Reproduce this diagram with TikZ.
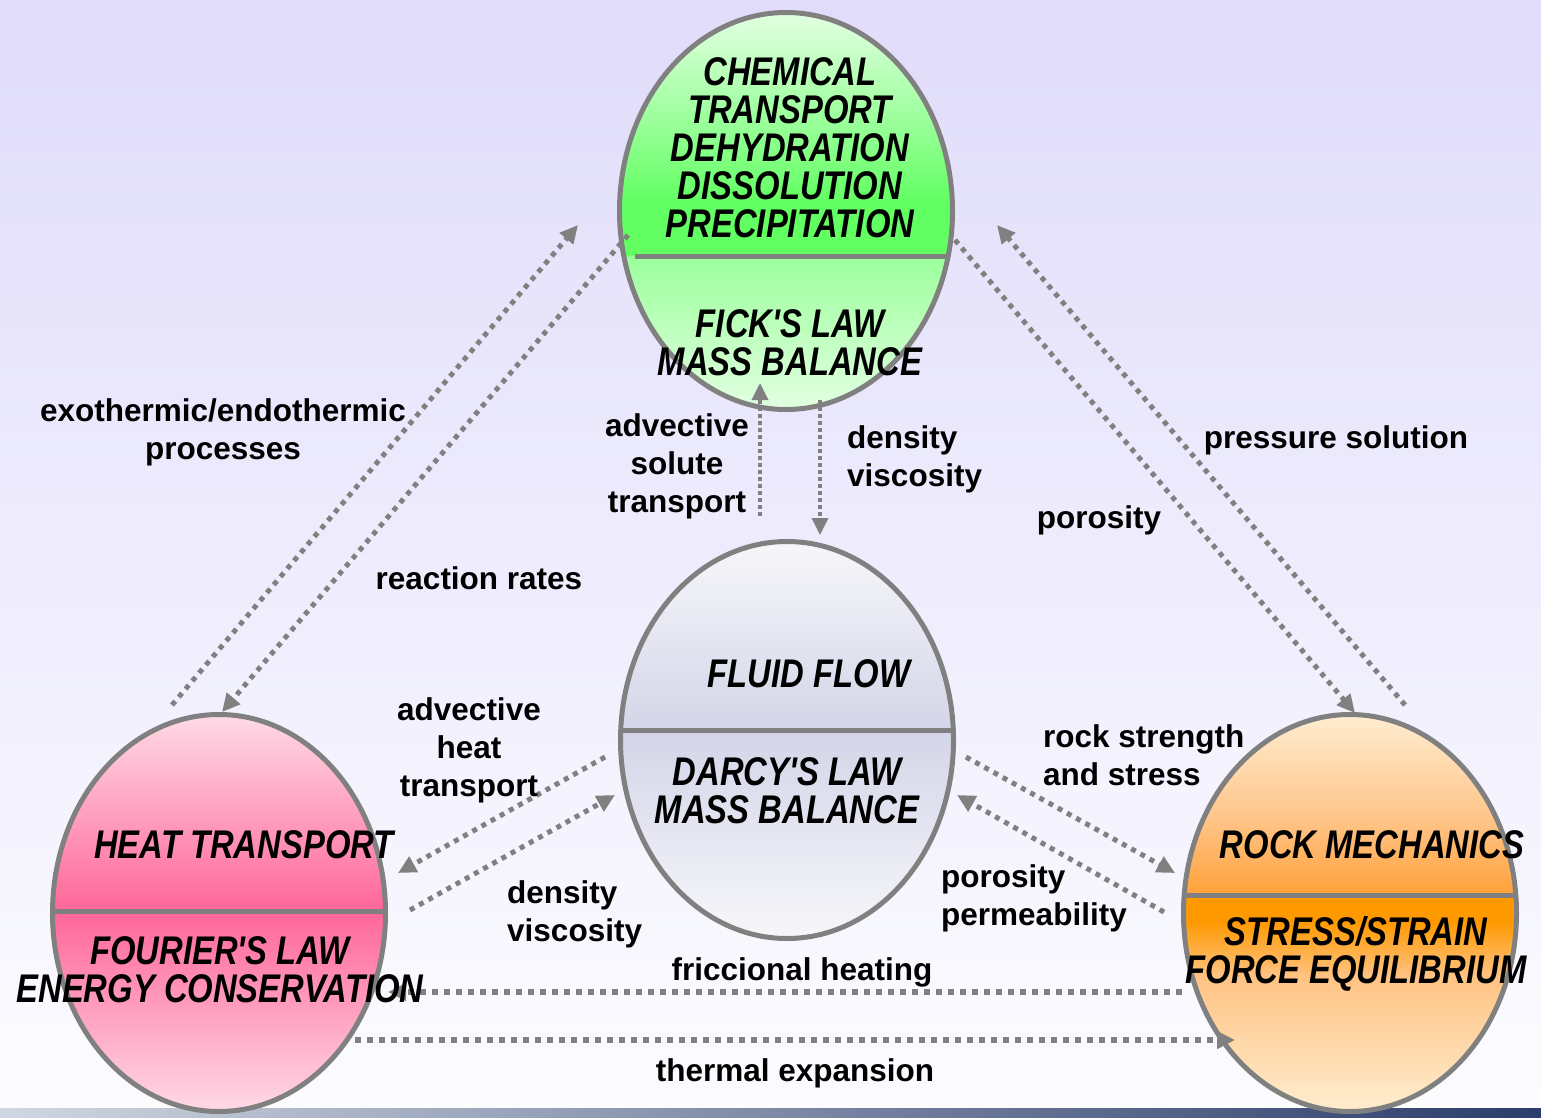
\documentclass[tikz,border=0pt]{standalone}
\usepackage{fontspec}
\setmainfont{Liberation Sans}
\newfontfamily\decofont[FakeStretch=0.82]{Liberation Sans}
\usetikzlibrary{shapes.geometric,arrows.meta,calc}

% palette
\definecolor{edgegray}{HTML}{808080}
\definecolor{bgtop}{HTML}{E0DCFA}
\definecolor{bgbottom}{HTML}{FCFCFF}
\definecolor{stripleft}{HTML}{D0D7E2}
\definecolor{stripright}{HTML}{2C3D6B}
\definecolor{chemlight}{HTML}{E2FFE2}
\definecolor{chemlow}{HTML}{9CFF9C}
\definecolor{chembright}{HTML}{62FF62}
\definecolor{chemmid}{HTML}{9EFF9E}
\definecolor{heatlight}{HTML}{FFDAE6}
\definecolor{heatmid}{HTML}{FF6699}
\definecolor{rocklight}{HTML}{FFEDD0}
\definecolor{rockup}{HTML}{FFC58A}
\definecolor{rockmid}{HTML}{FF9900}
\definecolor{rocklow}{HTML}{FFA13A}
\definecolor{rocklow2}{HTML}{FFC383}
\definecolor{fluidlight}{HTML}{F7F7FA}
\definecolor{fluidmid}{HTML}{D3D5E8}

% vertical shadings, one per field (25bp = bottom, 75bp = top of the shape)
\pgfdeclareverticalshading{chemshade}{100bp}{color(0bp)=(chemlight); color(25bp)=(chemlight);
  color(44.3bp)=(chemlow); color(44.5bp)=(chembright); color(51bp)=(chembright);
  color(62bp)=(chemmid); color(75bp)=(chemlight); color(100bp)=(chemlight)}
\pgfdeclareverticalshading{heatshade}{100bp}{color(0bp)=(heatlight); color(25bp)=(heatlight);
  color(50.2bp)=(heatmid); color(75bp)=(heatlight); color(100bp)=(heatlight)}
\pgfdeclareverticalshading{rockshade}{100bp}{color(0bp)=(rocklight); color(25bp)=(rocklight);
  color(42bp)=(rocklow2); color(49bp)=(rockmid); color(52.2bp)=(rockmid);
  color(52.4bp)=(rocklow); color(62bp)=(rockup); color(75bp)=(rocklight); color(100bp)=(rocklight)}
\pgfdeclareverticalshading{fluidshade}{100bp}{color(0bp)=(fluidlight); color(25bp)=(fluidlight);
  color(51.2bp)=(fluidmid); color(75bp)=(fluidlight); color(100bp)=(fluidlight)}

\tikzset{
  egg/.style={ellipse, draw=edgegray, line width=5pt, minimum width=333pt,
    minimum height=397pt, inner sep=0pt, shade},
  divider/.style={draw=edgegray, line width=5pt},
  link/.style={draw=edgegray, line width=5pt, dash pattern=on 5pt off 5.5pt,
    -{Triangle[length=18pt,width=17pt]}},
  flatlink/.style={draw=edgegray, line width=5.5pt, dash pattern=on 6pt off 6pt,
    -{Triangle[length=18pt,width=17pt]}},
  thinlink/.style={draw=edgegray, line width=3.5pt, dash pattern=on 4pt off 3pt,
    -{Triangle[length=17pt,width=16pt]}},
  lbl/.style={font=\fontsize{31.5}{38}\selectfont\bfseries, align=center, inner sep=0pt},
  deco/.style={font=\decofont\fontsize{40}{38}\selectfont\bfseries\itshape,
    align=center, inner sep=0pt},
}

\begin{document}
\begin{tikzpicture}[x=1pt, y=-1pt]
  \useasboundingbox (0,0) rectangle (1541,1117);

  % backdrop and footer strip
  \shade[top color=bgtop, bottom color=bgbottom] (0,0) rectangle (1541,1108);
  \shade[left color=stripleft, right color=stripright] (0,1108) rectangle (1541,1117);

  % the four fields
  \node[egg, shading=chemshade]  (chem)  at (786,211)  {};
  \node[egg, shading=fluidshade] (fluid) at (787,740)  {};
  \node[egg, shading=heatshade]  (heat)  at (219,913)  {};
  \node[egg, shading=rockshade]  (rock)  at (1350,913) {};

  % process / law separators
  \draw[divider] ($(chem)+(-151,45)$)  -- ($(chem)+(161,45)$);
  \draw[divider] ($(fluid)+(-167,-10)$) -- ($(fluid)+(167,-10)$);
  \draw[divider] ($(heat)+(-167,-2)$)  -- ($(heat)+(167,-2)$);
  \draw[divider] ($(rock)+(-166,-18)$) -- ($(rock)+(166,-18)$);

  % couplings
  \draw[link] ($(heat)+(-47,-208)$) -- ($(chem)+(-208,14)$);
  \draw[link] ($(chem)+(-158,24)$)  -- ($(heat)+(3,-201)$);
  \draw[thinlink] ($(fluid)+(-27,-224)$) -- ($(chem)+(-26,172)$);
  \draw[thinlink] ($(chem)+(34,189)$) -- ($(fluid)+(33,-205)$);
  \draw[link] ($(chem)+(169,29)$)   -- ($(rock)+(5,-200)$);
  \draw[link] ($(rock)+(55,-208)$)  -- ($(chem)+(211,14)$);
  \draw[link] ($(fluid)+(-182,17)$) -- ($(heat)+(179,-40)$);
  \draw[link] ($(heat)+(191,-3)$)   -- ($(fluid)+(-172,55)$);
  \draw[link] ($(fluid)+(179,17)$)  -- ($(rock)+(-175,-40)$);
  \draw[link] ($(rock)+(-186,-1)$)  -- ($(fluid)+(170,55)$);
  \draw[flatlink] ($(rock)+(-168,79)$) -- ($(heat)+(169,79)$);
  \draw[flatlink] ($(heat)+(136,127)$) -- ($(rock)+(-115,127)$);

  % field contents
  \node[deco] (chemproc) at (790,148) {CHEMICAL\\TRANSPORT\\DEHYDRATION\\DISSOLUTION\\PRECIPITATION};
  \node[deco] (chemlaw)  at (790,343) {FICK'S LAW\\MASS BALANCE};
  \node[deco] (fluidproc) at (809,674) {FLUID FLOW};
  \node[deco] (fluidlaw)  at (787,791) {DARCY'S LAW\\MASS BALANCE};
  \node[deco] (heatproc) at (244,845) {HEAT TRANSPORT};
  \node[deco] (heatlaw)  at (220,970) {FOURIER'S LAW\\ENERGY CONSERVATION};
  \node[deco] (rockproc) at (1372,845) {ROCK MECHANICS};
  \node[deco] (rocklaw)  at (1356,954) {STRESS/STRAIN\\FORCE EQUILIBRIUM};

  % coupling labels
  \node[lbl] (l-exo)   at (223,432) {exothermic/endothermic\\processes};
  \node[lbl] (l-react) at (479,578) {reaction rates};
  \node[lbl] (l-solute) at (677,466) {advective\\solute\\transport};
  \node[lbl, anchor=west, align=left] (l-dens1) at (847,459) {density\\viscosity};
  \node[lbl] (l-press) at (1336,440) {pressure solution};
  \node[lbl] (l-por1)  at (1099,520) {porosity};
  \node[lbl] (l-heatadv) at (469,750) {advective\\heat\\transport};
  \node[lbl, anchor=west, align=left] (l-rock) at (1043,755) {rock strength\\and stress};
  \node[lbl, anchor=west, align=left] (l-dens2) at (507,914) {density\\viscosity};
  \node[lbl, anchor=west, align=left] (l-perm) at (941,898) {porosity\\permeability};
  \node[lbl] (l-fric)  at (802,972) {friccional heating};
  \node[lbl] (l-therm) at (795,1073) {thermal expansion};
\end{tikzpicture}
\end{document}
